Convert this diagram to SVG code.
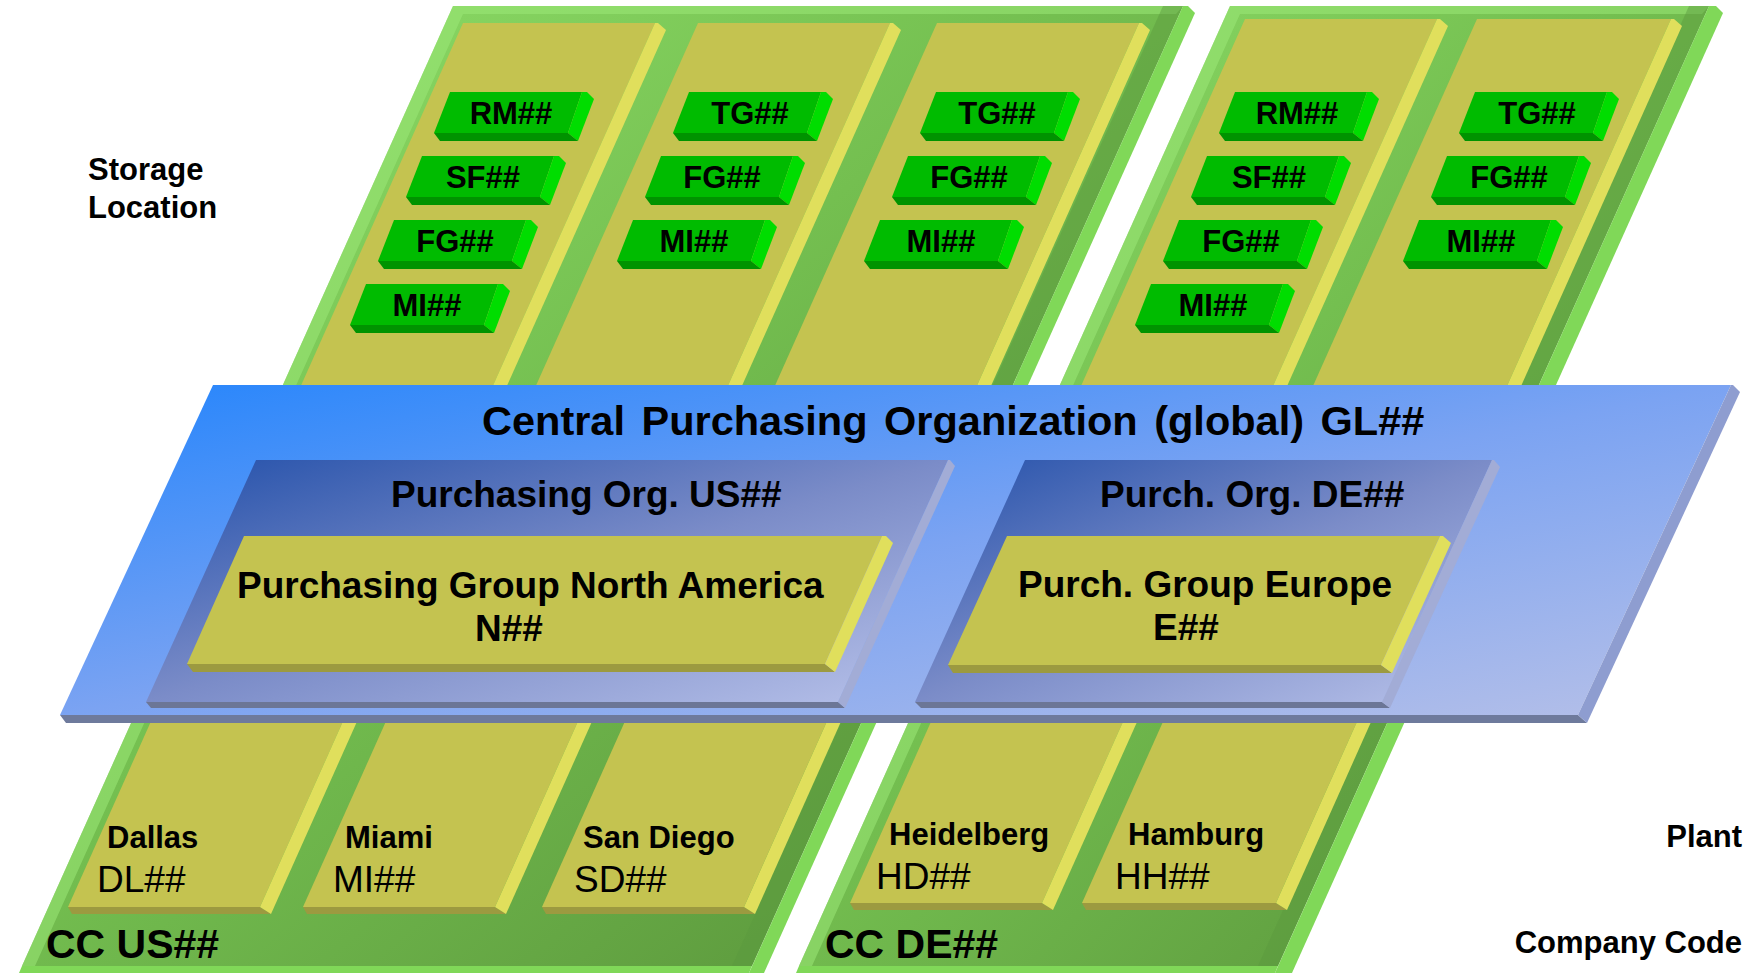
<svg xmlns="http://www.w3.org/2000/svg" xmlns:xlink="http://www.w3.org/1999/xlink" width="1750" height="973" viewBox="0 0 1750 973">
  <style>
    .t { font-family: "Liberation Sans", Arial, Helvetica, sans-serif; fill: #000; }
    .b { font-weight: bold; }
    .tag { font-size: 31px; font-weight: bold; text-anchor: middle; }
    .plantName { font-size: 31px; font-weight: bold; }
    .plantCode { font-size: 37px; font-weight: normal; }
    .ccFace { fill: url(#ccGrad); }
    .ccBevel { fill: #80d858; }
    .ccShade { fill: #5c9a3e; opacity: 0.45; }
    .ccHi { fill: #9ae876; opacity: 0.55; }
    .yFace { fill: #c4c350; }
    .yBevel { fill: #e0df5c; }
    .yBottom { fill: #9c9a40; }
    .bBevel { fill: #8e9dd0; }
    .bBottom { fill: #6e7a9c; }
    .poBevel { fill: #a2acd6; }
    .poBottom { fill: #6c7696; }
  </style>
  <defs>
    <linearGradient id="ccGrad" x1="0" y1="0" x2="1" y2="1">
      <stop offset="0" stop-color="#92e26c"/>
      <stop offset="0.45" stop-color="#74bf50"/>
      <stop offset="1" stop-color="#558d37"/>
    </linearGradient>
    <linearGradient id="cpoGrad" x1="0" y1="0" x2="1" y2="1">
      <stop offset="0" stop-color="#2585fc"/>
      <stop offset="0.5" stop-color="#7ba3f2"/>
      <stop offset="1" stop-color="#b6c0e8"/>
    </linearGradient>
    <linearGradient id="poGrad" x1="0" y1="0" x2="1" y2="1">
      <stop offset="0" stop-color="#2350aa"/>
      <stop offset="0.5" stop-color="#7b8cc8"/>
      <stop offset="1" stop-color="#b8c2ea"/>
    </linearGradient>
    <!-- storage location tag: face, right bevel, bottom bevel -->
    <g id="tagShape">
      <polygon points="0,0 132,0 118,41 -16,41" fill="#00bb00"/>
      <polygon points="132,0 137,0 144,7 128,49 118,41" fill="#00dd00"/>
      <polygon points="-16,41 118,41 128,49 -10,49" fill="#009300"/>
    </g>
  </defs>

  <rect width="1750" height="973" fill="#fff"/>

  <!-- Company code CC US## -->
  <g id="cc-us">
    <polygon class="ccFace" points="453,6 1183,6 752,966 22,966"/>
    <polygon class="ccHi" points="453,6 1183,6 1176,14 463,14 35,966 22,966"/>
    <polygon class="ccShade" points="1163,6 1183,6 752,966 732,966"/>
    <polygon class="ccBevel" points="22,966 752,966 749,973 19,973"/>
    <polygon class="ccBevel" points="1183,6 1188,6 1195,13 764,973 749,973"/>
  </g>

  <!-- Company code CC DE## -->
  <g id="cc-de">
    <polygon class="ccFace" points="1230,6 1709,6 1278,966 799,966"/>
    <polygon class="ccHi" points="1230,6 1709,6 1702,14 1240,14 812,966 799,966"/>
    <polygon class="ccShade" points="1689,6 1709,6 1278,966 1258,966"/>
    <polygon class="ccBevel" points="799,966 1278,966 1275,973 796,973"/>
    <polygon class="ccBevel" points="1709,6 1716,6 1723,13 1292,973 1275,973"/>
  </g>

  <!-- Plants (US) -->
  <g id="plant-dallas">
    <polygon class="yFace" points="463,23 655,23 260,907 68,907"/>
    <polygon class="yBottom" points="68,907 260,907 271,914 72,914"/>
    <polygon class="yBevel" points="655,23 658,23 666,30 271,914 260,907"/>
  </g>
  <g id="plant-miami">
    <polygon class="yFace" points="698,23 890,23 495,907 303,907"/>
    <polygon class="yBottom" points="303,907 495,907 506,914 307,914"/>
    <polygon class="yBevel" points="890,23 893,23 901,30 506,914 495,907"/>
  </g>
  <g id="plant-sandiego">
    <polygon class="yFace" points="937,23 1139,23 744,907 542,907"/>
    <polygon class="yBottom" points="542,907 744,907 755,914 546,914"/>
    <polygon class="yBevel" points="1139,23 1142,23 1150,30 755,914 744,907"/>
  </g>

  <!-- Plants (DE) -->
  <g id="plant-heidelberg">
    <polygon class="yFace" points="1245,19 1437,19 1042,903 850,903"/>
    <polygon class="yBottom" points="850,903 1042,903 1053,910 854,910"/>
    <polygon class="yBevel" points="1437,19 1440,19 1448,26 1053,910 1042,903"/>
  </g>
  <g id="plant-hamburg">
    <polygon class="yFace" points="1477,19 1671,19 1276,903 1082,903"/>
    <polygon class="yBottom" points="1082,903 1276,903 1287,910 1086,910"/>
    <polygon class="yBevel" points="1671,19 1674,19 1682,26 1287,910 1276,903"/>
  </g>

  <!-- Storage locations -->
  <g id="sloc-dallas">
    <use xlink:href="#tagShape" x="450" y="92"/><text class="t tag" x="511" y="124">RM##</text>
    <use xlink:href="#tagShape" x="422" y="156"/><text class="t tag" x="483" y="188">SF##</text>
    <use xlink:href="#tagShape" x="394" y="220"/><text class="t tag" x="455" y="252">FG##</text>
    <use xlink:href="#tagShape" x="366" y="284"/><text class="t tag" x="427" y="316">MI##</text>
  </g>
  <g id="sloc-miami">
    <use xlink:href="#tagShape" x="689" y="92"/><text class="t tag" x="750" y="124">TG##</text>
    <use xlink:href="#tagShape" x="661" y="156"/><text class="t tag" x="722" y="188">FG##</text>
    <use xlink:href="#tagShape" x="633" y="220"/><text class="t tag" x="694" y="252">MI##</text>
  </g>
  <g id="sloc-sandiego">
    <use xlink:href="#tagShape" x="936" y="92"/><text class="t tag" x="997" y="124">TG##</text>
    <use xlink:href="#tagShape" x="908" y="156"/><text class="t tag" x="969" y="188">FG##</text>
    <use xlink:href="#tagShape" x="880" y="220"/><text class="t tag" x="941" y="252">MI##</text>
  </g>
  <g id="sloc-heidelberg">
    <use xlink:href="#tagShape" x="1235" y="92"/><text class="t tag" x="1297" y="124">RM##</text>
    <use xlink:href="#tagShape" x="1207" y="156"/><text class="t tag" x="1269" y="188">SF##</text>
    <use xlink:href="#tagShape" x="1179" y="220"/><text class="t tag" x="1241" y="252">FG##</text>
    <use xlink:href="#tagShape" x="1151" y="284"/><text class="t tag" x="1213" y="316">MI##</text>
  </g>
  <g id="sloc-hamburg">
    <use xlink:href="#tagShape" x="1475" y="92"/><text class="t tag" x="1537" y="124">TG##</text>
    <use xlink:href="#tagShape" x="1447" y="156"/><text class="t tag" x="1509" y="188">FG##</text>
    <use xlink:href="#tagShape" x="1419" y="220"/><text class="t tag" x="1481" y="252">MI##</text>
  </g>

  <!-- Central purchasing organization plate -->
  <g id="cpo-global">
    <polygon fill="url(#cpoGrad)" points="213,385 1731,385 1578,715 60,715"/>
    <polygon class="bBottom" points="60,715 1578,715 1587,723 66,723"/>
    <polygon class="bBevel" points="1731,385 1733,385 1740,392 1587,723 1578,715"/>
    <text class="t b" x="482" y="435" font-size="41.5" word-spacing="5">Central Purchasing Organization (global) GL##</text>
  </g>

  <!-- Purchasing organization US -->
  <g id="po-us">
    <polygon fill="url(#poGrad)" points="256,460 948,460 838,702 146,702"/>
    <polygon class="poBottom" points="146,702 838,702 845,708 151,708"/>
    <polygon class="poBevel" points="948,460 950,460 955,466 845,708 838,702"/>
    <text class="t b" x="391" y="507" font-size="37">Purchasing Org. US##</text>
  </g>

  <!-- Purchasing organization DE -->
  <g id="po-de">
    <polygon fill="url(#poGrad)" points="1025,460 1492,460 1382,702 915,702"/>
    <polygon class="poBottom" points="915,702 1382,702 1390,708 921,708"/>
    <polygon class="poBevel" points="1492,460 1494,460 1500,467 1390,708 1382,702"/>
    <text class="t b" x="1100" y="507" font-size="37">Purch. Org. DE##</text>
  </g>

  <!-- Purchasing group North America -->
  <g id="pg-na">
    <polygon class="yFace" points="244,536 882,536 825,664 187,664"/>
    <polygon class="yBottom" points="187,664 825,664 835,672 193,672"/>
    <polygon class="yBevel" points="882,536 886,536 893,543 835,672 825,664"/>
    <text class="t b" x="237" y="598" font-size="37">Purchasing Group North America</text>
    <text class="t b" x="475" y="641" font-size="37">N##</text>
  </g>

  <!-- Purchasing group Europe -->
  <g id="pg-eu">
    <polygon class="yFace" points="1007,536 1440,536 1381,665 948,665"/>
    <polygon class="yBottom" points="948,665 1381,665 1392,673 953,673"/>
    <polygon class="yBevel" points="1440,536 1443,536 1451,543 1392,673 1381,665"/>
    <text class="t b" x="1018" y="597" font-size="37">Purch. Group Europe</text>
    <text class="t b" x="1153" y="640" font-size="37">E##</text>
  </g>

  <!-- Plant labels -->
  <g id="plant-labels">
    <text class="t plantName" x="107" y="848">Dallas</text>
    <text class="t plantCode" x="97" y="892">DL##</text>
    <text class="t plantName" x="345" y="848">Miami</text>
    <text class="t plantCode" x="333" y="892">MI##</text>
    <text class="t plantName" x="583" y="848">San Diego</text>
    <text class="t plantCode" x="574" y="892">SD##</text>
    <text class="t plantName" x="889" y="845">Heidelberg</text>
    <text class="t plantCode" x="876" y="889">HD##</text>
    <text class="t plantName" x="1128" y="845">Hamburg</text>
    <text class="t plantCode" x="1115" y="889">HH##</text>
  </g>

  <!-- Company code labels -->
  <g id="cc-labels">
    <text class="t b" x="46" y="958" font-size="41">CC US##</text>
    <text class="t b" x="825" y="958" font-size="41">CC DE##</text>
  </g>

  <!-- Level captions -->
  <g id="captions">
    <text class="t b" x="88" y="180" font-size="31">Storage</text>
    <text class="t b" x="88" y="218" font-size="31">Location</text>
    <text class="t b" x="1742" y="847" font-size="31" text-anchor="end">Plant</text>
    <text class="t b" x="1742" y="953" font-size="31" text-anchor="end">Company Code</text>
  </g>
</svg>
